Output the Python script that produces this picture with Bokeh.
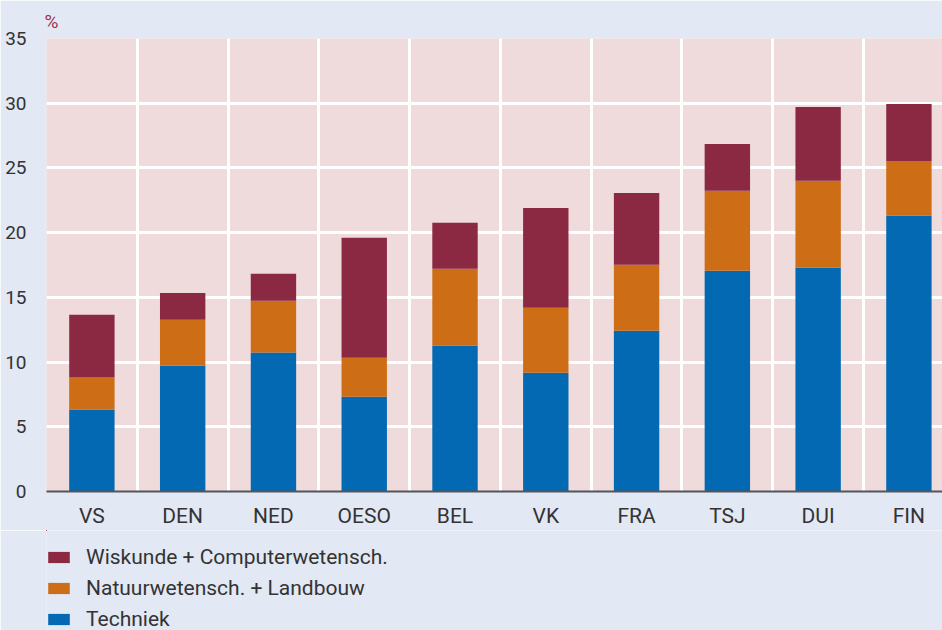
from bokeh.plotting import figure
from bokeh.layouts import column
from bokeh.models import Range1d, FixedTicker, Legend, LegendItem, ColumnDataSource
from bokeh.embed import file_html
from bokeh.resources import INLINE

countries = ["VS", "DEN", "NED", "OESO", "BEL", "VK", "FRA", "TSJ", "DUI", "FIN"]
techniek = [6.33, 9.72, 10.73, 7.33, 11.27, 9.18, 12.42, 17.05, 17.28, 21.30]
natuur = [2.47, 3.55, 4.01, 3.01, 5.94, 5.02, 5.10, 6.18, 6.72, 4.24]
wiskunde = [4.86, 2.06, 2.08, 9.26, 3.55, 7.71, 5.55, 3.62, 5.71, 4.40]
y_ticks = [0, 5, 10, 15, 20, 25, 30, 35]

labels = ["Techniek", "Natuurwetensch. + Landbouw", "Wiskunde + Computerwetensch."]
colors = ["#0469B3", "#CD6E17", "#8B2942"]

FONT = "Roboto"
TXT = "#333333"
PAGE_BG = "#E2E8F4"

x = [i + 0.5 for i in range(len(countries))]
src = ColumnDataSource(dict(x=x, techniek=techniek, natuur=natuur, wiskunde=wiskunde))

p = figure(width=942, height=530, output_backend="svg", toolbar_location=None,
           x_range=Range1d(0, 9.87), y_range=Range1d(0, 35),
           min_border_left=46, min_border_right=0, min_border_top=38, min_border_bottom=38,
           background_fill_color="#EFDADC", border_fill_color=PAGE_BG,
           outline_line_color=None)

rs = p.vbar_stack(["techniek", "natuur", "wiskunde"], x="x", width=0.5,
                  color=colors, line_color=None, source=src)

p.title.text = "%"
p.title.text_font = FONT
p.title.text_font_size = "19px"
p.title.text_font_style = "normal"
p.title.text_color = "#A0304F"
p.title.align = "left"
p.title.offset = -2
p.title.standoff = 12

# axes
p.xaxis.ticker = FixedTicker(ticks=x)
p.xaxis.major_label_overrides = {xi: c for xi, c in zip(x, countries)}
p.xaxis.major_tick_line_color = None
p.xaxis.minor_tick_line_color = None
p.xaxis.axis_line_color = "#555555"
p.xaxis.axis_line_width = 2
p.xaxis.major_label_text_font = FONT
p.xaxis.major_label_text_font_size = "21px"
p.xaxis.major_label_text_color = TXT
p.xaxis.major_label_standoff = 6

p.yaxis.ticker = FixedTicker(ticks=y_ticks)
p.yaxis.major_tick_line_color = None
p.yaxis.minor_tick_line_color = None
p.yaxis.axis_line_color = None
p.yaxis.major_label_text_font = FONT
p.yaxis.major_label_text_font_size = "19px"
p.yaxis.major_label_text_color = TXT
p.yaxis.major_label_standoff = 14

# grids
p.xgrid.ticker = FixedTicker(ticks=list(range(1, len(countries))))
p.ygrid.ticker = FixedTicker(ticks=y_ticks[1:-1])
p.xgrid.grid_line_color = "white"
p.ygrid.grid_line_color = "white"
p.xgrid.grid_line_width = 3
p.ygrid.grid_line_width = 3

# legend strip below the chart (its proxy bars lie far outside its visible ranges)
p2 = figure(width=942, height=100, output_backend="svg", toolbar_location=None,
            x_range=Range1d(100, 109.87), y_range=Range1d(-200, -100),
            x_axis_type=None, y_axis_type=None,
            min_border_left=46, min_border_right=0, min_border_top=0, min_border_bottom=0,
            background_fill_color=PAGE_BG, border_fill_color=PAGE_BG,
            outline_line_color=None)
p2.xgrid.visible = False
p2.ygrid.visible = False
proxies = p2.vbar_stack(["techniek", "natuur", "wiskunde"], x="x", width=0.01,
                        color=colors, line_color=None, source=src)

legend = Legend(items=[LegendItem(label=labels[2], renderers=[proxies[2]]),
                       LegendItem(label=labels[1], renderers=[proxies[1]]),
                       LegendItem(label=labels[0], renderers=[proxies[0]])],
                location=(-1, -1), orientation="vertical",
                glyph_width=27, glyph_height=14, label_standoff=14,
                label_text_font=FONT, label_text_font_size="21px", label_text_color=TXT,
                label_height=20, spacing=7, padding=0, margin=0,
                border_line_color=None, background_fill_alpha=0)
p2.add_layout(legend, "center")

layout = column(p, p2, spacing=0)

open("out.html", "w").write(file_html(layout, INLINE))
